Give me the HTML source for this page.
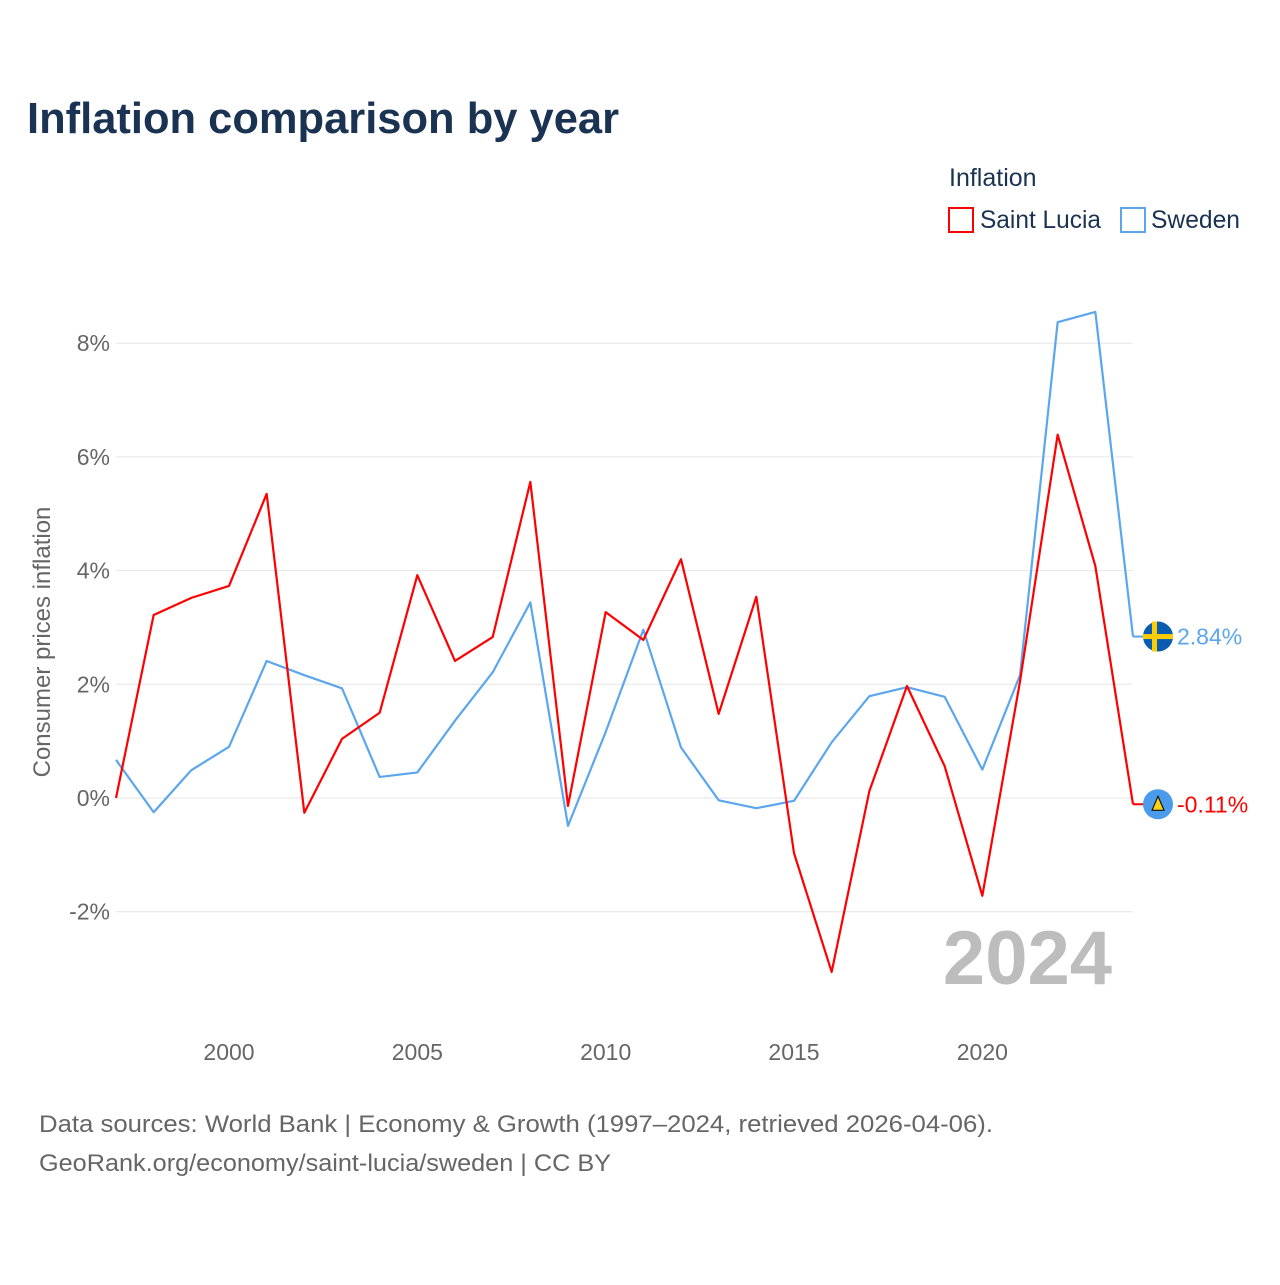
<!DOCTYPE html>
<html><head><meta charset="utf-8"><style>
body{margin:0;background:#fff;width:1280px;height:1280px;overflow:hidden;font-family:"Liberation Sans",sans-serif}
</style></head><body>
<svg id="chart" width="1280" height="1280" xmlns="http://www.w3.org/2000/svg" font-family="Liberation Sans, sans-serif">
<text x="27" y="133" font-size="44" font-weight="bold" fill="#1a3352" textLength="592" lengthAdjust="spacingAndGlyphs">Inflation comparison by year</text>
<text x="949" y="186" font-size="25" fill="#1a3352">Inflation</text>
<g><rect x="949" y="208" width="24" height="24" fill="none" stroke="#ff0000" stroke-width="2"/><text x="980" y="228" font-size="25" fill="#1a3352" textLength="121" lengthAdjust="spacingAndGlyphs">Saint Lucia</text></g>
<g><rect x="1121" y="208" width="24" height="24" fill="none" stroke="#5ba6ec" stroke-width="2"/><text x="1151" y="228" font-size="25" fill="#1a3352" textLength="89" lengthAdjust="spacingAndGlyphs">Sweden</text></g>
<text transform="translate(50,642) rotate(-90)" text-anchor="middle" font-size="24" fill="#666">Consumer prices inflation</text>
<g id="grid"></g><g id="xt"></g>
<text x="1112" y="984" text-anchor="end" font-size="76" font-weight="bold" fill="#bdbdbd">2024</text>
<g id="series"></g>
<text x="39" y="1132" font-size="24" fill="#666" textLength="954" lengthAdjust="spacingAndGlyphs">Data sources: World Bank | Economy &amp; Growth (1997–2024, retrieved 2026-04-06).</text>
<text x="39" y="1171" font-size="24" fill="#666" textLength="572" lengthAdjust="spacingAndGlyphs">GeoRank.org/economy/saint-lucia/sweden | CC BY</text>
</svg>
<script>
const years=[1997,1998,1999,2000,2001,2002,2003,2004,2005,2006,2007,2008,2009,2010,2011,2012,2013,2014,2015,2016,2017,2018,2019,2020,2021,2022,2023,2024];
const saintLucia=[0.0,3.22,3.52,3.73,5.35,-0.26,1.04,1.50,3.92,2.41,2.83,5.56,-0.14,3.27,2.78,4.20,1.48,3.54,-0.97,-3.06,0.12,1.97,0.56,-1.72,2.05,6.39,4.08,-0.11];
const sweden=[0.67,-0.25,0.49,0.90,2.41,2.16,1.93,0.37,0.45,1.36,2.21,3.44,-0.49,1.16,2.96,0.89,-0.04,-0.18,-0.05,0.98,1.79,1.95,1.78,0.50,2.16,8.37,8.55,2.84];
const yTicks=[-2,0,2,4,6,8];
const xTicks=[2000,2005,2010,2015,2020];
const NS="http://www.w3.org/2000/svg";
const x=v=>116+(v-1997)*(1133-116)/27;
const y=v=>798-v*56.85;
function mk(tag,attrs,parent,text){const e=document.createElementNS(NS,tag);for(const k in attrs)e.setAttribute(k,attrs[k]);if(text!==undefined)e.textContent=text;parent.appendChild(e);return e;}
const grid=document.getElementById('grid');
yTicks.forEach(t=>{
 const l=mk('line',{x1:116,x2:1133,y1:y(t),y2:y(t),stroke:'#e6e6e6','stroke-width':1},grid);
 
 
 const tx=mk('text',{x:110,y:y(t)+8,'text-anchor':'end','font-size':23,fill:'#666'},grid,t+'%');
 
 
});
const xt=document.getElementById('xt');
xTicks.forEach(t=>{
 const tx=mk('text',{x:x(t),y:1060,'text-anchor':'middle','font-size':23,fill:'#666'},xt,String(t));
 
 
});
const sg=document.getElementById('series');
function line(vals,color,name){
 const p=mk('polyline',{points:vals.map((v,i)=>x(years[i])+','+y(v)).join(' '),fill:'none',stroke:color,'stroke-width':2.2,'stroke-linejoin':'round'},sg);
 
 
 const last=vals[vals.length-1];
 mk('line',{x1:x(2024),x2:1145,y1:y(last),y2:y(last),stroke:color,'stroke-width':2},sg);
}
line(sweden,'#5ba6ec','sweden-line');
line(saintLucia,'#ff0000','saint-lucia-line');
const sl=saintLucia[saintLucia.length-1], sw=sweden[sweden.length-1];
let g=mk('g',{},sg);


mk('circle',{cx:1158,cy:y(sw),r:15,fill:'#0a5cb0'},g);
mk('rect',{x:1152,y:y(sw)-15,width:5,height:30,fill:'#fecc02'},g);
mk('rect',{x:1143,y:y(sw)-2.5,width:30,height:5,fill:'#fecc02'},g);
let t=mk('text',{x:1177,y:y(sw)+8,'font-size':23,fill:'#5ba6ec'},sg,sw.toFixed(2)+'%');


g=mk('g',{},sg);


mk('circle',{cx:1158,cy:y(sl),r:15,fill:'#4a9bec'},g);
mk('polygon',{points:`1158,${y(sl)-8} 1164,${y(sl)+6} 1152,${y(sl)+6}`,fill:'#fcd116',stroke:'#000','stroke-width':1},g);
t=mk('text',{x:1177,y:y(sl)+8,'font-size':23,fill:'#ff0000'},sg,sl.toFixed(2)+'%');


</script>
</body></html>
